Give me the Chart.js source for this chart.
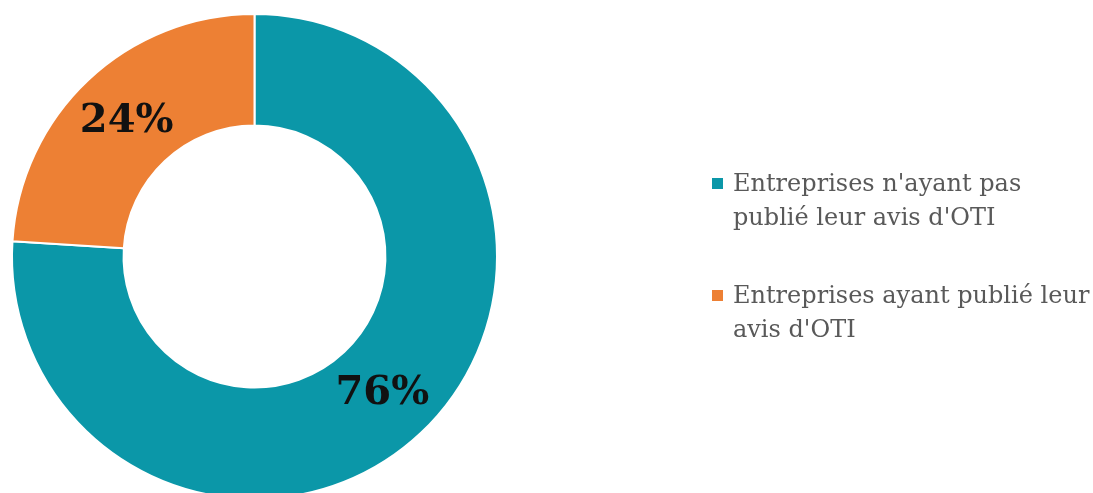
<!DOCTYPE html>
<html>
<head>
<meta charset="utf-8">
<script src="https://cdn.jsdelivr.net/npm/chart.js@4/dist/chart.umd.min.js"></script>
<style>
  html, body { margin: 0; padding: 0; background: #fff; overflow: hidden; }
  #wrap { position: relative; width: 1093px; height: 493px; overflow: hidden; }
  #wrap canvas { position: absolute; left: 0; top: 0; }
  #legend { position: absolute; left: 712px; top: 166px; font-family: "DejaVu Serif", serif; font-size: 24px; color: #595959; }
  .item { position: relative; padding-left: 21px; line-height: 34px; margin-bottom: 44px; white-space: nowrap; }
  .box { position: absolute; left: 0; top: 12px; width: 11px; height: 11px; }
</style>
</head>
<body>
<div id="wrap">
  <canvas id="chart"></canvas>
  <div id="legend"></div>
</div>
<script>
var categories = [
    ["Entreprises n'ayant pas", "publié leur avis d'OTI"],
    ["Entreprises ayant publié leur", "avis d'OTI"]
];
var values = [76, 24];
var colors = ['rgb(11, 151, 168)', 'rgb(237, 128, 52)'];

// draws the % on each slice
var sliceLabels = {
    id: 'sliceLabels',
    afterDatasetsDraw: function(chart) {
        var ctx = chart.ctx;
        var meta = chart.getDatasetMeta(0);
        var total = values.reduce(function(a, b) { return a + b; }, 0);
        ctx.save();
        ctx.font = 'bold 40px "DejaVu Serif", serif';
        ctx.fillStyle = '#111';
        ctx.textAlign = 'center';
        ctx.textBaseline = 'middle';
        meta.data.forEach(function(arc, i) {
            var p = arc.tooltipPosition();
            ctx.fillText(Math.round(values[i] / total * 100) + '%', p.x, p.y + 1);
        });
        ctx.restore();
    }
};

var canvas = document.getElementById('chart');
canvas.width = 1093;
canvas.height = 510;
canvas.style.width = '1093px';
canvas.style.height = '510px';

var myChart = new Chart(canvas.getContext('2d'), {
    type: 'doughnut',
    data: {
        labels: categories,
        datasets: [{
            data: values,
            backgroundColor: colors,
            borderColor: '#fff',
            borderWidth: 2
        }]
    },
    options: {
        responsive: false,
        animation: false,
        cutout: '54%',
        layout: { padding: { left: 11, top: 13, right: 595, bottom: 10 } },
        plugins: {
            legend: { display: false },
            tooltip: { enabled: false }
        }
    },
    plugins: [sliceLabels]
});

var legend = document.getElementById('legend');
myChart.data.labels.forEach(function(lbl, i) {
    var item = document.createElement('div');
    item.className = 'item';
    var box = document.createElement('span');
    box.className = 'box';
    box.style.background = myChart.data.datasets[0].backgroundColor[i];
    item.appendChild(box);
    var txt = document.createElement('span');
    txt.innerHTML = lbl.join('<br>');
    item.appendChild(txt);
    legend.appendChild(item);
});
</script>
</body>
</html>
